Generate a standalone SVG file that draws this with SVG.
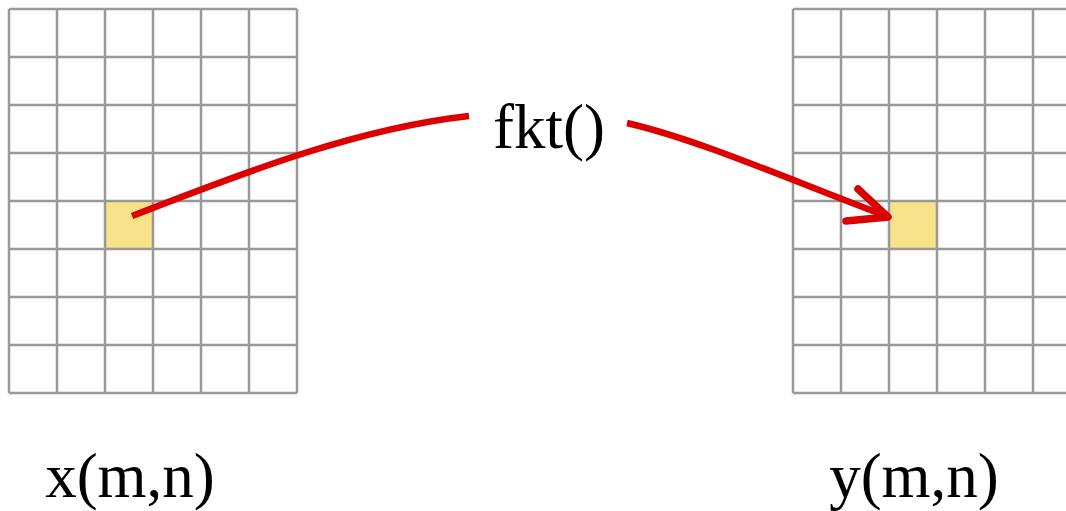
<svg xmlns="http://www.w3.org/2000/svg" width="1066" height="511" viewBox="0 0 1066 511">
<style>
.grid{fill:none;stroke:#999;stroke-width:2.5}
.cell{fill:#f7e28a}
.lbl{font-family:"Liberation Serif","Times New Roman",serif;font-size:63px;fill:#000}
.wire{fill:none;stroke:#dd0000;stroke-width:6.5;stroke-linecap:butt}
.head{fill:none;stroke:#dd0000;stroke-width:7.5;stroke-linecap:round;stroke-linejoin:round}
</style>
<rect width="1066" height="511" fill="#fff"/>
<g id="x-grid">
<rect class="cell" x="105" y="201" width="48" height="48"/>
<path class="grid" d="M9 9V393M57 9V393M105 9V393M153 9V393M201 9V393M249 9V393M297 9V393M9 9H297M9 57H297M9 105H297M9 153H297M9 201H297M9 249H297M9 297H297M9 345H297M9 393H297"/>
<text class="lbl" x="130" y="497" text-anchor="middle">x(m,n)</text>
</g>
<g id="y-grid">
<rect class="cell" x="889" y="201" width="48" height="48"/>
<path class="grid" d="M793 9V393M841 9V393M889 9V393M937 9V393M985 9V393M1033 9V393M793 9H1081M793 57H1081M793 105H1081M793 153H1081M793 201H1081M793 249H1081M793 297H1081M793 345H1081M793 393H1081"/>
<text class="lbl" x="914" y="497" text-anchor="middle">y(m,n)</text>
</g>
<g id="fkt">
<text class="lbl" x="549" y="148" text-anchor="middle">fkt()</text>
</g>
<g id="connectors">
<path class="wire" d="M132 216C250 170 360 128 469 116"/>
<path class="wire" d="M627 123C700 140 790 180 886 216"/>
<path class="head" d="M858 189L888 217L846 221"/>
</g>
</svg>
